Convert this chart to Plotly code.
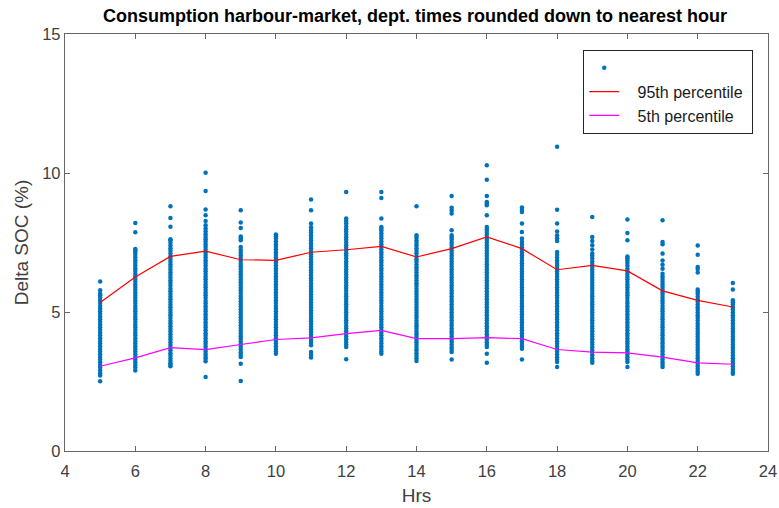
import plotly.graph_objects as go

HOURS = [5, 6, 7, 8, 9, 10, 11, 12, 13, 14, 15, 16, 17, 18, 19, 20, 21, 22, 23]

H05 = [2.51, 2.72, 2.80, 2.90, 3.00, 3.09, 3.19, 3.29, 3.38, 3.48, 3.58, 3.67, 3.77, 3.87, 3.96, 4.06, 4.16, 4.25, 4.35, 4.45, 4.54, 4.64, 4.74, 4.83, 4.93, 5.03, 5.12, 5.22, 5.32, 5.41, 5.51, 5.60, 5.66, 5.78, 6.10]
H06 = [2.90, 3.00, 3.09, 3.19, 3.29, 3.38, 3.48, 3.58, 3.67, 3.77, 3.87, 3.96, 4.06, 4.16, 4.25, 4.35, 4.45, 4.54, 4.64, 4.74, 4.83, 4.93, 5.03, 5.12, 5.22, 5.32, 5.41, 5.51, 5.61, 5.70, 5.80, 5.90, 5.99, 6.09, 6.19, 6.28, 6.38, 6.48, 6.57, 6.67, 6.77, 6.86, 6.96, 7.06, 7.15, 7.22, 7.27, 7.87, 8.20]
H07 = [3.05, 3.10, 3.16, 3.24, 3.33, 3.43, 3.52, 3.62, 3.72, 3.81, 3.91, 4.01, 4.10, 4.20, 4.30, 4.39, 4.49, 4.59, 4.68, 4.78, 4.88, 4.97, 5.07, 5.17, 5.26, 5.36, 5.46, 5.55, 5.65, 5.75, 5.84, 5.94, 6.04, 6.13, 6.23, 6.33, 6.42, 6.52, 6.62, 6.71, 6.81, 6.91, 7.00, 7.10, 7.20, 7.29, 7.39, 7.49, 7.58, 7.62, 8.07, 8.38, 8.80]
H08 = [2.66, 3.23, 3.32, 3.38, 3.47, 3.57, 3.66, 3.76, 3.86, 3.95, 4.05, 4.15, 4.24, 4.34, 4.44, 4.53, 4.63, 4.73, 4.82, 4.92, 5.02, 5.11, 5.21, 5.31, 5.40, 5.50, 5.60, 5.69, 5.79, 5.89, 5.98, 6.08, 6.18, 6.27, 6.37, 6.47, 6.56, 6.66, 6.76, 6.85, 6.95, 7.05, 7.14, 7.24, 7.34, 7.43, 7.53, 7.62, 7.70, 7.80, 7.90, 8.00, 8.12, 8.27, 8.48, 8.69, 9.35, 10.01]
H09 = [2.52, 3.14, 3.38, 3.46, 3.55, 3.65, 3.75, 3.84, 3.94, 4.04, 4.13, 4.23, 4.33, 4.42, 4.52, 4.62, 4.71, 4.81, 4.91, 5.00, 5.10, 5.20, 5.29, 5.39, 5.49, 5.58, 5.68, 5.78, 5.87, 5.97, 6.07, 6.16, 6.26, 6.36, 6.45, 6.55, 6.65, 6.74, 6.84, 6.94, 7.03, 7.13, 7.23, 7.34, 7.58, 7.65, 7.72, 8.02, 8.22, 8.66]
H10 = [3.50, 3.58, 3.67, 3.77, 3.87, 3.96, 4.06, 4.16, 4.25, 4.35, 4.45, 4.54, 4.64, 4.74, 4.83, 4.93, 5.03, 5.12, 5.22, 5.32, 5.41, 5.51, 5.61, 5.70, 5.80, 5.90, 5.99, 6.09, 6.19, 6.28, 6.38, 6.48, 6.57, 6.67, 6.77, 6.86, 6.96, 7.06, 7.15, 7.25, 7.35, 7.44, 7.54, 7.64, 7.72, 7.79]
H11 = [3.36, 3.46, 3.56, 3.80, 3.89, 3.99, 4.09, 4.18, 4.28, 4.38, 4.47, 4.57, 4.67, 4.76, 4.86, 4.96, 5.05, 5.15, 5.25, 5.34, 5.44, 5.54, 5.63, 5.73, 5.83, 5.92, 6.02, 6.12, 6.21, 6.31, 6.41, 6.50, 6.60, 6.70, 6.79, 6.89, 6.99, 7.08, 7.18, 7.28, 7.37, 7.47, 7.57, 7.66, 7.76, 7.86, 7.95, 8.05, 8.18, 8.66, 9.05]
H12 = [3.30, 3.74, 3.83, 3.92, 4.02, 4.12, 4.21, 4.31, 4.41, 4.50, 4.60, 4.70, 4.79, 4.89, 4.99, 5.08, 5.18, 5.28, 5.37, 5.47, 5.57, 5.66, 5.76, 5.86, 5.95, 6.05, 6.15, 6.24, 6.34, 6.44, 6.53, 6.63, 6.73, 6.82, 6.92, 7.02, 7.11, 7.21, 7.31, 7.40, 7.50, 7.60, 7.69, 7.79, 7.89, 7.98, 8.08, 8.18, 8.27, 8.36, 9.32]
H13 = [3.50, 3.58, 3.67, 3.77, 3.87, 3.96, 4.06, 4.16, 4.25, 4.35, 4.45, 4.54, 4.64, 4.74, 4.83, 4.93, 5.03, 5.12, 5.22, 5.32, 5.41, 5.51, 5.61, 5.70, 5.80, 5.90, 5.99, 6.09, 6.19, 6.28, 6.38, 6.48, 6.57, 6.67, 6.77, 6.86, 6.96, 7.06, 7.15, 7.25, 7.35, 7.44, 7.54, 7.64, 7.73, 7.83, 7.93, 8.00, 8.06, 8.36, 9.10, 9.32]
H14 = [3.24, 3.33, 3.42, 3.52, 3.62, 3.71, 3.81, 3.91, 4.00, 4.10, 4.20, 4.29, 4.39, 4.49, 4.58, 4.68, 4.78, 4.87, 4.97, 5.07, 5.16, 5.26, 5.36, 5.45, 5.55, 5.65, 5.74, 5.84, 5.94, 6.03, 6.13, 6.23, 6.32, 6.42, 6.52, 6.61, 6.71, 6.81, 6.90, 7.00, 7.10, 7.19, 7.29, 7.39, 7.48, 7.58, 7.68, 7.76, 8.80]
H15 = [3.29, 3.56, 3.64, 3.73, 3.83, 3.93, 4.02, 4.12, 4.22, 4.31, 4.41, 4.51, 4.60, 4.70, 4.80, 4.89, 4.99, 5.09, 5.18, 5.28, 5.38, 5.47, 5.57, 5.67, 5.76, 5.86, 5.96, 6.05, 6.15, 6.25, 6.34, 6.44, 6.54, 6.63, 6.73, 6.83, 6.92, 7.02, 7.12, 7.21, 7.31, 7.41, 7.50, 7.60, 7.68, 7.76, 7.94, 8.54, 8.65, 8.75, 9.17]
H16 = [3.17, 3.50, 3.74, 3.82, 3.91, 4.01, 4.11, 4.20, 4.30, 4.40, 4.49, 4.59, 4.69, 4.78, 4.88, 4.98, 5.07, 5.17, 5.27, 5.36, 5.46, 5.56, 5.65, 5.75, 5.85, 5.94, 6.04, 6.14, 6.23, 6.33, 6.43, 6.52, 6.62, 6.72, 6.81, 6.91, 7.01, 7.10, 7.20, 7.30, 7.39, 7.49, 7.59, 7.68, 7.78, 7.88, 7.97, 8.06, 8.48, 8.84, 8.90, 8.96, 9.17, 9.76, 10.28]
H17 = [3.29, 3.68, 3.76, 3.85, 3.95, 4.05, 4.14, 4.24, 4.34, 4.43, 4.53, 4.63, 4.72, 4.82, 4.92, 5.01, 5.11, 5.21, 5.30, 5.40, 5.50, 5.59, 5.69, 5.79, 5.88, 5.98, 6.08, 6.17, 6.27, 6.37, 6.46, 6.56, 6.66, 6.75, 6.85, 6.95, 7.04, 7.14, 7.24, 7.33, 7.43, 7.53, 7.64, 7.88, 8.18, 8.60, 8.68, 8.76]
H18 = [3.02, 3.20, 3.28, 3.37, 3.47, 3.57, 3.66, 3.76, 3.86, 3.95, 4.05, 4.15, 4.24, 4.34, 4.44, 4.53, 4.63, 4.73, 4.82, 4.92, 5.02, 5.11, 5.21, 5.31, 5.40, 5.50, 5.60, 5.69, 5.79, 5.89, 5.98, 6.08, 6.18, 6.27, 6.37, 6.47, 6.56, 6.66, 6.76, 6.85, 6.95, 7.05, 7.16, 7.55, 7.65, 7.75, 7.90, 8.18, 8.68, 10.94]
H19 = [3.17, 3.25, 3.34, 3.44, 3.54, 3.63, 3.73, 3.83, 3.92, 4.02, 4.12, 4.21, 4.31, 4.41, 4.50, 4.60, 4.70, 4.79, 4.89, 4.99, 5.08, 5.18, 5.28, 5.37, 5.47, 5.57, 5.66, 5.76, 5.86, 5.95, 6.05, 6.15, 6.24, 6.34, 6.44, 6.53, 6.63, 6.73, 6.82, 6.92, 7.02, 7.10, 7.25, 7.40, 7.55, 7.70, 8.42]
H20 = [3.02, 3.20, 3.28, 3.37, 3.47, 3.57, 3.66, 3.76, 3.86, 3.95, 4.05, 4.15, 4.24, 4.34, 4.44, 4.53, 4.63, 4.73, 4.82, 4.92, 5.02, 5.11, 5.21, 5.31, 5.40, 5.50, 5.60, 5.69, 5.79, 5.89, 5.98, 6.08, 6.18, 6.27, 6.37, 6.47, 6.56, 6.66, 6.76, 6.85, 6.93, 7.00, 7.58, 7.84, 8.33]
H21 = [3.02, 3.10, 3.19, 3.29, 3.38, 3.48, 3.58, 3.67, 3.77, 3.87, 3.96, 4.06, 4.16, 4.25, 4.35, 4.45, 4.54, 4.64, 4.74, 4.83, 4.93, 5.03, 5.12, 5.22, 5.32, 5.41, 5.51, 5.61, 5.70, 5.80, 5.90, 5.99, 6.09, 6.19, 6.28, 6.38, 6.56, 6.70, 6.85, 7.10, 7.44, 7.52, 8.30]
H22 = [2.78, 2.86, 2.95, 3.05, 3.14, 3.24, 3.34, 3.43, 3.53, 3.63, 3.72, 3.82, 3.92, 4.01, 4.11, 4.21, 4.30, 4.40, 4.50, 4.59, 4.69, 4.79, 4.88, 4.98, 5.08, 5.17, 5.27, 5.37, 5.46, 5.56, 5.66, 5.74, 5.81, 6.42, 6.55, 6.62, 7.06, 7.39]
H23 = [2.78, 2.86, 2.95, 3.05, 3.14, 3.24, 3.34, 3.43, 3.53, 3.63, 3.72, 3.82, 3.92, 4.01, 4.11, 4.21, 4.30, 4.40, 4.50, 4.59, 4.69, 4.79, 4.88, 4.98, 5.08, 5.17, 5.27, 5.35, 5.42, 5.81, 6.04]

P95 = [5.34, 6.26, 7.00, 7.19, 6.88, 6.86, 7.15, 7.24, 7.36, 6.98, 7.28, 7.70, 7.28, 6.52, 6.68, 6.48, 5.76, 5.42, 5.18]
P5 = [3.05, 3.35, 3.72, 3.65, 3.83, 4.01, 4.07, 4.22, 4.34, 4.04, 4.04, 4.08, 4.04, 3.65, 3.56, 3.53, 3.38, 3.17, 3.12]

X_TICKS = [4, 6, 8, 10, 12, 14, 16, 18, 20, 22, 24]
Y_TICKS = [0, 5, 10, 15]

SERIES = [H05, H06, H07, H08, H09, H10, H11, H12, H13, H14, H15, H16, H17, H18, H19, H20, H21, H22, H23]

xs, ys = [], []
for h, vals in zip(HOURS, SERIES):
    xs.extend([h] * len(vals))
    ys.extend(vals)

FONT = "Liberation Sans, Arial, sans-serif"
AX = "#262626"
TXT = "#404040"
LEAD = "\u00a0\u00a0\u00a0"
TRAIL = "\u00a0"

fig = go.Figure()
fig.add_trace(go.Scatter(x=xs, y=ys, mode="markers", name=" ",
                         marker=dict(color="#0072BD", size=4.5, line=dict(width=0))))
fig.add_trace(go.Scatter(x=HOURS, y=P95, mode="lines", name=LEAD + "95th percentile" + TRAIL,
                         line=dict(color="#ff0000", width=1.2)))
fig.add_trace(go.Scatter(x=HOURS, y=P5, mode="lines", name=LEAD + "5th percentile",
                         line=dict(color="#ff00ff", width=1.2)))

axis_common = dict(showgrid=False, zeroline=False, showline=True, linecolor="#666666",
                   linewidth=1.3, mirror="ticks", ticks="inside", ticklen=5,
                   tickcolor="#666666", tickfont=dict(family=FONT, size=16.5, color=TXT))

fig.update_layout(
    width=779, height=508,
    margin=dict(l=65, r=11, t=34, b=57),
    paper_bgcolor="white", plot_bgcolor="white",
    title=dict(text="<b>Consumption harbour-market, dept. times rounded down to nearest hour</b>",
               x=415 / 779, xanchor="center", y=1 - 16 / 508, yanchor="middle",
               font=dict(family=FONT, size=18, color="black")),
    xaxis=dict(range=[4, 24], tickvals=X_TICKS, automargin=False, ticklabelstandoff=5,
               title=dict(text="Hrs", standoff=9, font=dict(family=FONT, size=19, color=TXT)),
               **axis_common),
    yaxis=dict(range=[0, 15], tickvals=Y_TICKS, automargin=False,
               title=dict(text="Delta SOC (%)", standoff=8, font=dict(family=FONT, size=19, color=TXT)),
               **axis_common),
    legend=dict(x=0.979, y=0.962, xanchor="right", yanchor="top",
                bgcolor="white", bordercolor=AX, borderwidth=1,
                font=dict(family=FONT, size=16, color="#1a1a1a")),
    showlegend=True,
)

fig.write_html("out.html", config={"displayModeBar": False},
               post_script="document.body.style.margin='0';document.body.style.padding='0';")
